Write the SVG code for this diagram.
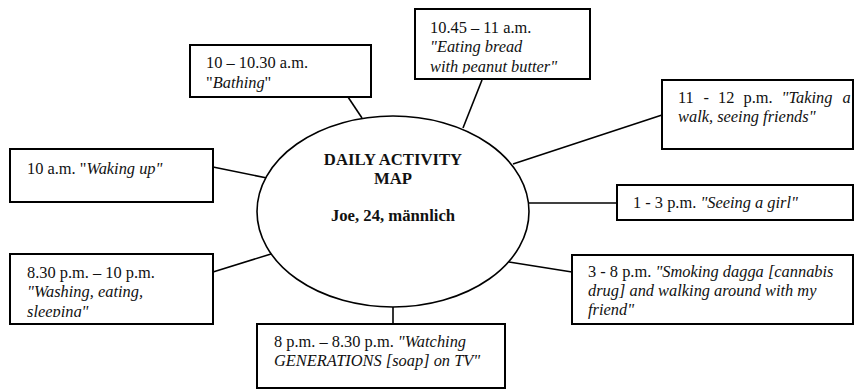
<svg xmlns="http://www.w3.org/2000/svg" width="856" height="391" viewBox="0 0 856 391">
<style>
.box{fill:#fff;stroke:#000;stroke-width:2}
.ell{fill:#fff;stroke:#000;stroke-width:1.6}
.con line{stroke:#000;stroke-width:1.6}
text{font-family:'Liberation Serif','Times New Roman',Tinos,'DejaVu Serif',serif;font-size:16.4px;fill:#111}
.i{font-style:italic}
.t{font-weight:bold;text-anchor:middle;font-size:16.7px}
</style>
<defs>
<clipPath id="c2"><rect x="415" y="9" width="175" height="64.5"/></clipPath>
<clipPath id="c7"><rect x="10" y="254" width="203" height="63"/></clipPath>
</defs>
<rect width="856" height="391" fill="#fff"/>
<g class="con" id="connectors">
<line x1="348" y1="97" x2="362" y2="118"/>
<line x1="482" y1="80" x2="463" y2="128"/>
<line x1="662" y1="115" x2="513" y2="164"/>
<line x1="617" y1="203" x2="528" y2="203"/>
<line x1="572" y1="272" x2="509" y2="262"/>
<line x1="393" y1="324" x2="393" y2="306"/>
<line x1="213" y1="272" x2="271" y2="254"/>
<line x1="213" y1="167" x2="267" y2="178"/>
</g>
<g id="center">
<ellipse class="ell" cx="393" cy="211.5" rx="136" ry="95.5"/>
<text class="t" x="393" y="165">DAILY ACTIVITY</text>
<text class="t" x="393" y="184">MAP</text>
<text class="t" x="393" y="221">Joe, 24, männlich</text>
</g>
<g id="n1">
<rect class="box" x="190" y="45" width="181" height="52"/>
<text x="206" y="68">10 – 10.30 a.m.</text>
<text x="206" y="88">"<tspan class="i">Bathing</tspan>"</text>
</g>
<g id="n2">
<rect class="box" x="415" y="9" width="175" height="70"/>
<g clip-path="url(#c2)">
<text x="430" y="33">10.45 – 11 a.m.</text>
<text x="430" y="52" class="i">"Eating bread</text>
<text x="430" y="71.5" class="i">with peanut butter"</text>
</g>
</g>
<g id="n3">
<rect class="box" x="662" y="80" width="191" height="69"/>
<text y="103"><tspan x="678">11</tspan><tspan x="703.5">-</tspan><tspan x="718">12</tspan><tspan x="743.5">p.m.</tspan><tspan x="781.5" class="i">"Taking</tspan><tspan x="842.5" class="i">a</tspan></text>
<text x="678" y="122" class="i">walk, seeing friends"</text>
</g>
<g id="n4">
<rect class="box" x="617" y="185" width="236" height="35"/>
<text x="633" y="208">1 - 3 p.m. <tspan class="i">"Seeing a girl"</tspan></text>
</g>
<g id="n5">
<rect class="box" x="572" y="255" width="281" height="69"/>
<text x="588" y="277">3 - 8 p.m. <tspan class="i">"Smoking dagga [cannabis</tspan></text>
<text x="588" y="296" class="i">drug] and walking around with my</text>
<text x="588" y="315" class="i">friend"</text>
</g>
<g id="n6">
<rect class="box" x="257" y="324" width="248" height="64"/>
<text x="274" y="347">8 p.m. – 8.30 p.m. <tspan class="i">"Watching</tspan></text>
<text x="274" y="366" class="i">GENERATIONS [soap] on TV"</text>
</g>
<g id="n7">
<rect class="box" x="10" y="254" width="203" height="70"/>
<g clip-path="url(#c7)">
<text x="27" y="278">8.30 p.m. – 10 p.m.</text>
<text x="27" y="297" class="i">"Washing, eating,</text>
<text x="27" y="316.5" class="i">sleeping"</text>
</g>
</g>
<g id="n8">
<rect class="box" x="10" y="149" width="203" height="53"/>
<text x="27" y="174">10 a.m. "<tspan class="i">Waking up"</tspan></text>
</g>
</svg>
